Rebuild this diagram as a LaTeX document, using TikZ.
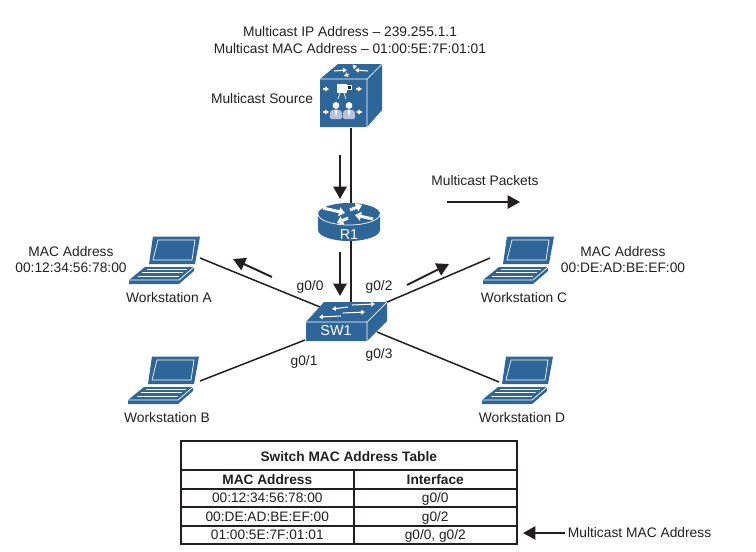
\documentclass[tikz,border=0pt]{standalone}
\usepackage{fontspec}
\setmainfont{Liberation Sans}
\usetikzlibrary{arrows.meta}
\definecolor{ciscoblue}{HTML}{2F6699}
\definecolor{ciscopale}{HTML}{B4C3DA}
\definecolor{inktext}{HTML}{231F20}
\tikzset{
  label text/.style={font=\fontsize{7.85}{9.4}\selectfont, text=inktext, inner sep=0pt, align=center},
  link/.style={line width=0.85pt, inktext},
  flow/.style={-{Triangle[length=7pt,width=7.5pt]}, line width=1.1pt, inktext},
  tiny flow/.style={-{Triangle[length=2.2pt,width=2.6pt]}, line width=0.6pt, white},
  fat flow/.style={-{Triangle[length=3.4pt,width=5pt]}, line width=1.7pt, white},
  cell/.style={draw=inktext, line width=0.9pt, font=\fontsize{7.8}{9}\selectfont, text=inktext, inner sep=0pt, anchor=north west, text height=6.9pt, text depth=1.4pt},
  head cell/.style={cell, font=\fontsize{7.8}{9}\selectfont\bfseries},
  % Portatil: el origen es la esquina superior izquierda de la pantalla
  laptop/.pic={
    \fill[ciscoblue] (0,0.5) -- (47,0.5) -- (42,28) -- (-4,28) -- cycle;
    \draw[white, line width=0.4pt] (5,4) -- (42,4) -- (39,24) -- (0,24) -- cycle;
    \fill[ciscoblue] (-8,31) -- (41,31) -- (41,35) -- (26,48) -- (-24,48) -- (-24,44) -- cycle;
    \draw[white, line width=0.5pt] (-6.5,33) -- (33.7,33);
    \draw[white, line width=0.5pt] (-11,36.5) -- (29.7,36.5);
    \draw[white, line width=0.5pt] (-15,40) -- (25.6,40);
    \draw[white, line width=0.4pt] (-24,44) -- (26,44) -- (41,31);
  },
  % Switch
  switchicon/.pic={
    \fill[ciscoblue] (0,20) -- (18,0) -- (81,0) -- (81,19) -- (61,39) -- (0,39) -- cycle;
    \draw[white, line width=0.4pt] (0,20) -- (61,20) -- (81,0) (61,20) -- (61,39);
    \draw[tiny flow] (46,3) -- (69,2);
    \draw[tiny flow] (42,5) -- (26,7);
    \draw[tiny flow] (37,11) -- (59,10);
    \draw[tiny flow] (35,14) -- (13,15);
  },
  % Router
  routericon/.pic={
    \fill[ciscoblue] (-31,0) -- (-31,16) arc[start angle=180, end angle=0, x radius=31, y radius=11] -- (31,0) -- cycle;
    \fill[ciscoblue] (0,0) ellipse[x radius=31, y radius=11];
    \draw[white, line width=0.4pt] (-31,0) arc[start angle=180, end angle=0, x radius=31, y radius=11];
    \draw[fat flow] (-26,-6) -- (-4,-1);
    \draw[fat flow] (24,5) -- (6,1);
    \draw[fat flow] (1,-4) -- (13,-9);
    \draw[fat flow] (-1,4) -- (-12,9);
  },
  % Cubo de la fuente multicast
  sourceicon/.pic={
    \fill[ciscoblue] (0,15) -- (18,0) -- (62,0) -- (62,46) -- (47,63) -- (0,63) -- cycle;
    \draw[white, line width=0.4pt] (0,15) -- (47,15) -- (62,0) (47,15) -- (47,63);
    \draw[tiny flow] (14,7) -- (27,6);
    \draw[tiny flow] (48,7) -- (35,6);
    \draw[tiny flow] (33,3) -- (37,2);
    \draw[tiny flow] (29,10) -- (24,12);
    % Camara y personas
    \fill[white] (17,20) rectangle (27,29);
    \draw[white, fill=inktext, line width=0.3pt] (27,21) rectangle (31,25);
    \draw[white, line width=0.4pt] (20,29) -- (18,35) (24,29) -- (26,35);
    \foreach \px in {16,29} {
      \fill[white] (\px,41.5) circle[radius=3.4];
      \fill[ciscopale, rounded corners=1pt] (\px-6.5,55) -- (\px-5.5,46) -- (\px+5.5,46) -- (\px+6.5,55) -- cycle;
      \fill[white] (\px-1.5,45.5) -- (\px+1.5,45.5) -- (\px,53) -- cycle;
    }
    \draw[tiny flow] (3,25) -- (9,25);
    \draw[tiny flow] (36,25) -- (42,25);
    \draw[tiny flow] (3,48) -- (9,48);
    \draw[tiny flow] (42,48) -- (36,48);
  }
}

\begin{document}
\begin{tikzpicture}[x=0.02cm, y=-0.02cm]
  \useasboundingbox (0,0) rectangle (756,551);

  % Puertos de los enlaces
  \coordinate (srcport) at (351,128);
  \coordinate (rtop) at (351,203);
  \coordinate (rbot) at (351,241);
  \coordinate (swtop) at (351,302);
  \coordinate (wsaport) at (200,258);
  \coordinate (swa) at (320,307);
  \coordinate (wsbport) at (200,381);
  \coordinate (swb) at (305,340);
  \coordinate (wscport) at (490,258);
  \coordinate (swc) at (385,303);
  \coordinate (wsdport) at (499,382);
  \coordinate (swd) at (377,332);

  % Enlaces
  \draw[link] (srcport) -- (rtop);
  \draw[link] (rbot) -- (swtop);
  \draw[link] (wsaport) -- (swa);
  \draw[link] (wsbport) -- (swb);
  \draw[link] (wscport) -- (swc);
  \draw[link] (wsdport) -- (swd);

  % Equipos
  \pic at (320,64) {sourceicon};
  \pic at (349,214) {routericon};
  \pic at (306,302) {switchicon};
  \pic at (153,236) {laptop};
  \pic at (152,356) {laptop};
  \pic at (507,236) {laptop};
  \pic at (506,356) {laptop};

  % Textos
  \node[label text] (srcinfo) at (350,40) {Multicast IP Address -- 239.255.1.1\\Multicast MAC Address -- 01:00:5E:7F:01:01};
  \node[label text] (srcname) at (262,99) {Multicast Source};
  \node[label text] (pktname) at (485,181) {Multicast Packets};
  \node[label text, text=white, font=\fontsize{8.2}{10}\selectfont] (r1) at (349,235) {R1};
  \node[label text, text=white, font=\fontsize{8.2}{10}\selectfont] (sw1) at (336,331) {SW1};
  \node[label text] (maca) at (71,259.5) {MAC Address\\00:12:34:56:78:00};
  \node[label text] (macc) at (623,259.5) {MAC Address\\00:DE:AD:BE:EF:00};
  \node[label text] (wsa) at (169,298) {Workstation A};
  \node[label text] (wsb) at (167,418) {Workstation B};
  \node[label text] (wsc) at (524,298) {Workstation C};
  \node[label text] (wsd) at (522,418) {Workstation D};
  \node[label text] (g00) at (310,287) {g0/0};
  \node[label text] (g02) at (379,287) {g0/2};
  \node[label text] (g01) at (304,362) {g0/1};
  \node[label text] (g03) at (379,355) {g0/3};

  % Flechas de trafico
  \draw[flow] (340,155) -- (340,199);
  \draw[flow] (340,252) -- (340,296);
  \draw[flow] (272,277) -- (233,259);
  \draw[flow] (407,285) -- (449,264);
  \draw[flow] (447,202) -- (520,202);

  % Tabla MAC
  \node[head cell, minimum width=6.72cm, minimum height=0.58cm, text height=8pt] (tblhead) at (180,440) {Switch MAC Address Table};
  \node[head cell, minimum width=3.46cm, minimum height=0.38cm] (mach) at (180,469) {MAC Address};
  \node[head cell, minimum width=3.26cm, minimum height=0.38cm] (ifh) at (353,469) {Interface};
  \node[cell, minimum width=3.46cm, minimum height=0.36cm] (mac1) at (180,488) {00:12:34:56:78:00};
  \node[cell, minimum width=3.26cm, minimum height=0.36cm] (if1) at (353,488) {g0/0};
  \node[cell, minimum width=3.46cm, minimum height=0.38cm] (mac2) at (180,506) {00:DE:AD:BE:EF:00};
  \node[cell, minimum width=3.26cm, minimum height=0.38cm] (if2) at (353,506) {g0/2};
  \node[cell, minimum width=3.46cm, minimum height=0.36cm] (mac3) at (180,525) {01:00:5E:7F:01:01};
  \node[cell, minimum width=3.26cm, minimum height=0.36cm] (if3) at (353,525) {g0/0, g0/2};

  \node[label text] (mcastmac) at (639.5,533) {Multicast MAC Address};
  \coordinate (mcasttail) at (565,533);
  \coordinate (mcasthead) at (523,533);
  \draw[flow] (mcasttail) -- (mcasthead);
\end{tikzpicture}
\end{document}
